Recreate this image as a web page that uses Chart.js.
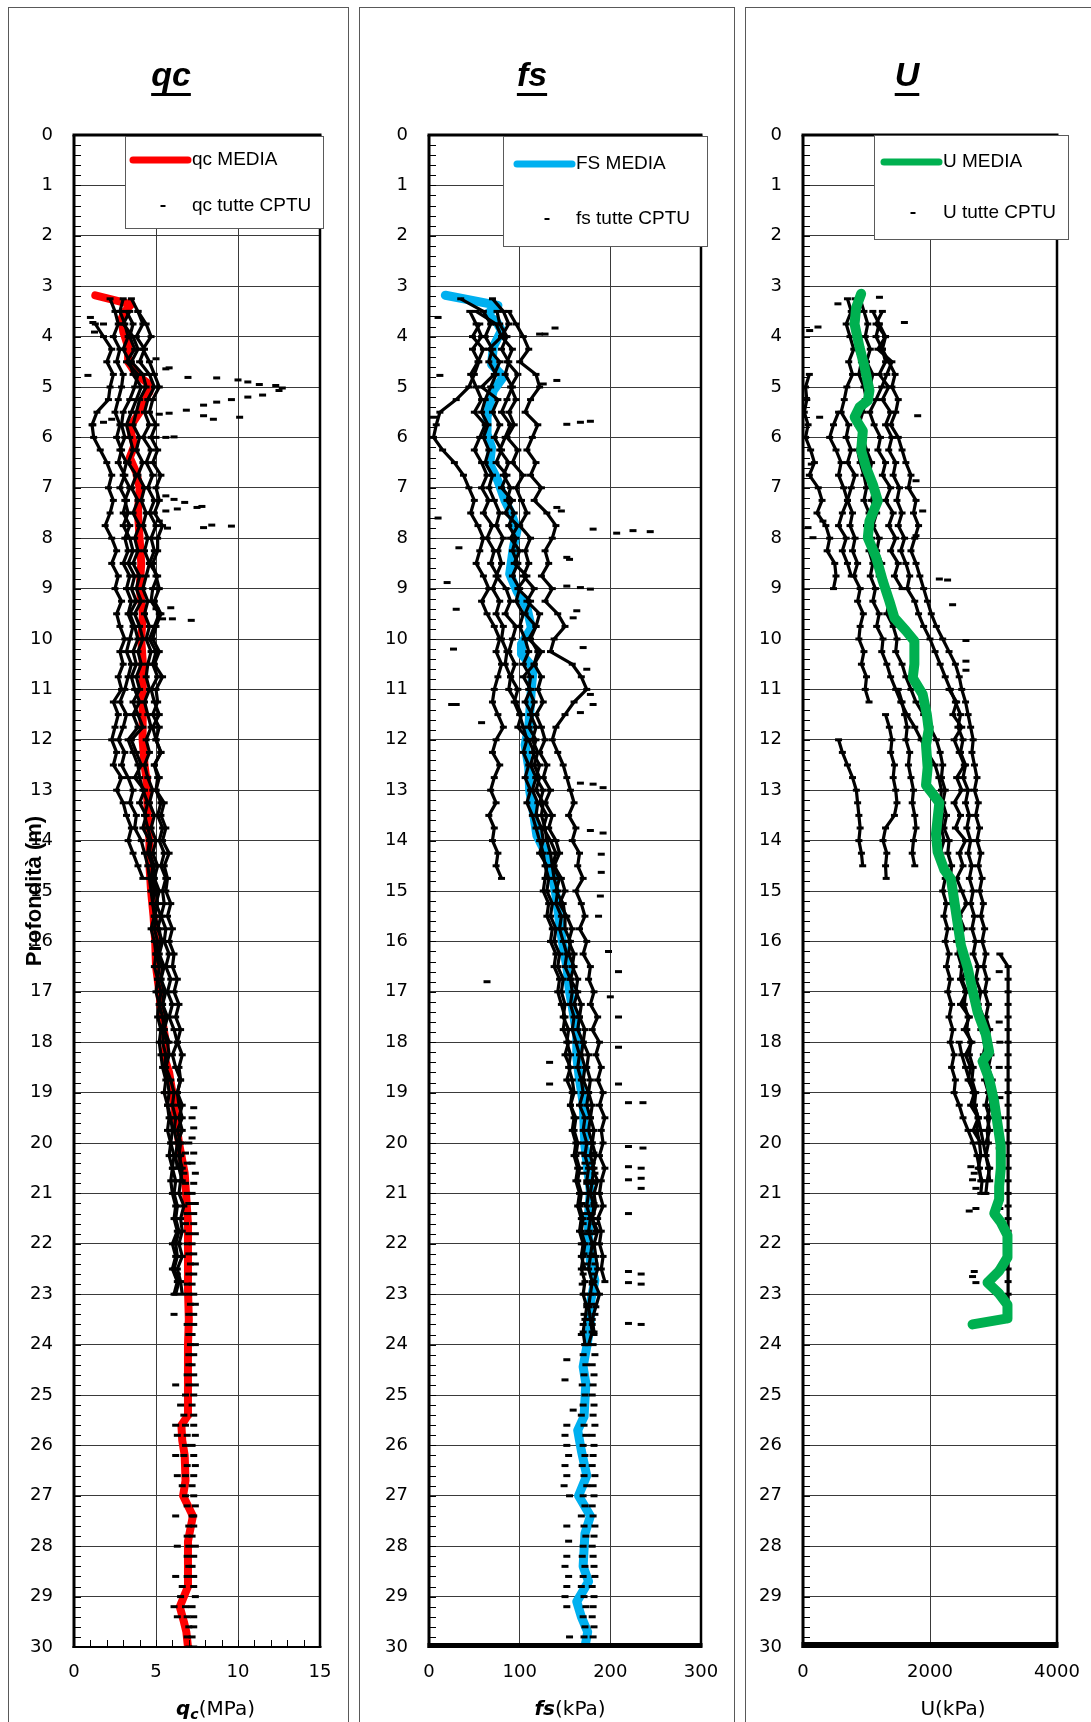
<!DOCTYPE html>
<html lang="it">
<head>
<meta charset="utf-8">
<title>qc - fs - U</title>
<script src="https://cdn.jsdelivr.net/npm/chart.js@4.4.1/dist/chart.umd.min.js"></script>
<style>
html,body{margin:0;padding:0;background:#fff;}
body{position:relative;width:1091px;height:1722px;overflow:hidden;}
.panel{position:absolute;top:7px;height:1740px;border:1px solid #595959;box-sizing:border-box;background:#fff;}
.wrap{position:absolute;top:7px;height:1715px;}
.wrap canvas{display:block;}
</style>
</head>
<body>
<div class="panel" style="left:8px;width:341px"></div>
<div class="panel" style="left:359px;width:376px"></div>
<div class="panel" style="left:745px;width:370px"></div>
<div class="wrap" style="left:8px;width:340px"><canvas id="cQc"></canvas></div>
<div class="wrap" style="left:359px;width:375px"><canvas id="cFs"></canvas></div>
<div class="wrap" style="left:745px;width:346px"><canvas id="cU"></canvas></div>
<script>
// ================= DATA =================
const DEPTH_TICKS = [0,1,2,3,4,5,6,7,8,9,10,11,12,13,14,15,16,17,18,19,20,21,22,23,24,25,26,27,28,29,30];
const QC_TICKS = [0,5,10,15];
const FS_TICKS = [0,100,200,300];
const U_TICKS = [0,2000,4000];

// sampling depths (m) of the shallow CPTU profiles
const DEPTHS = [3.25,3.5,3.75,4,4.25,4.5,4.75,5,5.25,5.5,5.75,6,6.25,6.5,6.75,7,7.25,7.5,7.75,8,8.25,8.5,8.75,9,9.25,9.5,9.75,10,10.25,10.5,10.75,11,11.25,11.5,11.75,12,12.25,12.5,12.75,13,13.25,13.5,13.75,14,14.25,14.5,14.75,15,15.25,15.5,15.75,16,16.25,16.5,16.75,17,17.25,17.5,17.75,18,18.25,18.5,18.75,19,19.25,19.5,19.75,20,20.25,20.5,20.75,21,21.25,21.5,21.75,22,22.25,22.5,22.75,23,23.25,23.5,23.75,24];
// sampling depths (m) of the deep CPTU
const DEEP_DEPTHS = [20,20.2,20.4,20.6,20.8,21,21.2,21.4,21.6,21.8,22,22.2,22.4,22.6,22.8,23,23.2,23.4,23.6,23.8,24,24.2,24.4,24.6,24.8,25,25.2,25.4,25.6,25.8,26,26.2,26.4,26.6,26.8,27,27.2,27.4,27.6,27.8,28,28.2,28.4,28.6,28.8,29,29.2,29.4,29.6,29.8,30];

// ---- qc (MPa) ----
const qcMediaDepth = [3.18,3.36,3.5,3.65,3.9,4.2,4.5,4.75,4.95,5.1,5.3,5.5,5.75,5.95,6.15,6.4,6.7,7.0,7.5,8.0,8.5,9.0,9.5,10.0,10.5,11.0,11.5,12.0,12.5,12.75,13.0,13.5,14.0,14.5,15.0,15.5,16.0,16.5,17.0,17.5,17.8,18.0,18.3,18.6,19.0,19.5,20.0,20.6,21.1,21.6,22.3,22.9,23.5,24.0,24.6,25.4,25.6,25.9,26.2,26.7,27.0,27.4,27.9,28.4,28.8,29.2,29.5,29.7,30.0];
const qcMedia = [1.3,3.5,3.1,2.9,3.0,3.3,3.3,3.8,4.6,4.6,4.2,4.0,3.5,3.5,3.7,3.4,3.8,4.0,3.9,4.0,4.1,4.0,4.2,4.1,4.2,4.2,4.15,4.2,4.3,4.4,4.45,4.5,4.6,4.6,4.7,4.85,4.95,5.0,5.2,5.35,5.5,5.6,5.5,5.8,6.0,6.2,6.4,6.75,6.85,6.95,6.95,6.95,7.0,6.95,6.95,6.95,6.55,6.6,6.75,6.8,6.65,7.25,6.95,6.95,6.95,6.45,6.7,6.85,6.95];
const qcA = [3.0,2.8,3.1,3.3,3.0,3.4,3.6,4.1,3.8,3.5,
3.2,3.4,3.6,3.3,3.8,3.5,3.9,3.6,4.0,3.7,
3.9,3.6,4.0,3.8,4.1,3.7,4.0,4.2,3.9,4.1,
3.8,4.0,3.6,3.9,4.2,3.5,3.8,4.1,3.7,4.3,
4.0,4.4,4.2,4.6,4.5,4.8,4.7,4.9,4.8,5.0,
4.9,5.1,5.0,5.2,5.1,5.3,5.2,5.4,5.5,5.4,
5.6,5.5,5.7,5.8,5.7,5.9,6.0,5.9,6.1,6.0,
6.2,6.1,6.3,6.2,6.4,6.2,6.3,6.1,6.4,6.2];
const qcB = [3.5,3.9,4.2,3.8,4.3,4.0,4.6,4.9,4.5,4.3,
4.6,4.2,4.7,4.4,4.8,4.5,4.9,4.6,5.0,4.7,
4.9,4.6,5.1,4.8,4.7,5.2,4.9,4.6,5.0,4.8,
5.1,4.7,4.9,5.2,4.8,5.0,5.3,4.9,5.1,5.0,
5.3,5.1,5.4,5.2,5.5,5.3,5.6,5.4,5.5,5.3,
5.6,5.5,5.8,5.6,5.9,5.7,6.0,5.8,6.1,6.3,
6.0,6.2,6.5,6.3,6.4,6.6,6.3,6.5,6.4,6.6,
6.5,6.4,6.7,6.5,6.6,6.4,6.6,6.3,6.5,6.6];
const qcC = [2.2,2.5,2.7,2.4,2.8,2.6,3.0,2.9,2.7,2.5,
2.8,2.6,2.9,2.7,3.1,2.8,3.2,3.0,3.4,3.1,
3.3,3.0,3.4,3.2,3.5,3.3,3.6,3.4,3.2,3.5,
3.3,3.1,2.8,3.2,3.0,2.7,3.1,2.9,3.3,3.6,
3.4,3.8,3.7,4.1,4.3,4.5,4.6,4.7,4.8,4.9,
4.7,4.9,5.0,4.9,5.1,5.0,5.2,5.1,5.3,5.2,
5.3,5.4,5.6,5.5,5.7,5.8,5.7,5.9,5.8,6.0,
5.9,6.0,6.2,6.1,6.3,6.0,6.2,6.0,6.3,6.1];
const qcD = [null,null,1.3,1.8,2.3,2.0,2.4,2.2,2.1,1.4,
1.1,1.2,1.6,2.0,2.3,2.1,2.4,2.2,1.9,2.3,
2.6,2.3,2.7,2.5,2.9,2.6,2.8,3.1,2.8,3.0,
2.7,2.9,2.4,2.7,2.5,2.3,2.6,2.4,2.9,2.6,
3.0,3.2,3.5,3.3,3.6,3.9,4.2];
const qcE = [null,3.9,4.4,4.7,4.2,4.6,4.9,5.2,4.8,4.6,
5.0,4.7,5.1,4.8,5.3,5.0,5.2,4.9,5.4,5.1,
5.1,4.8,5.0,5.2,4.9,5.3,5.0,4.8,5.2,4.9,
5.4,5.0,5.1,4.8,5.2,5.0,5.3,4.9,5.2,5.0,
5.5,5.3,5.6,5.4,5.8,5.5,5.7,5.6,5.9,5.7,
6.0,5.8,6.1,6.0,6.3,6.1,6.4,6.2,6.5,6.3,
6.6,6.4,6.5,6.3,6.6,6.4,6.6,6.3,6.5,6.4,
6.6];
const qcF = [null,3.2,3.6,3.4,3.7,3.2,3.9,3.7,3.4,3.0,
2.9,3.1,2.8,3.2,3.0,3.4,3.1,3.3,3.0,3.4,
3.6,3.3,3.7,3.5,3.8,3.4,3.7,3.9,3.6,3.8,
3.5,3.7,4.0,3.6,3.9,3.3,3.6,3.9,4.0,4.2,
4.5,4.3,4.5,4.7,4.6,4.9,4.8,5.0,5.1,4.9,
5.2,5.3,5.1,5.4,5.3,5.5,5.4,5.6,5.3,5.7,
5.8,5.6,5.9,6.1,6.0,6.2,6.1,6.3,6.2,6.3];
const qcG = [null,3.4,3.0,3.6,3.9,3.5,4.2,4.4,4.0,3.8,
3.6,4.0,3.8,4.2,3.9,4.3,4.1,4.4,4.2,4.5,
4.3,4.6,4.4,4.2,4.5,4.3,4.6,4.4,4.7,4.5,
4.4,4.6,4.3,4.5,4.7,4.4,4.6,4.3,4.5,4.8,
4.6,4.9,4.7,5.0,4.8,5.1,4.9,5.2,5.0,5.3,
5.1,5.4,5.2,5.5,5.3,5.6,5.4,5.7,5.5,5.8];
const qcDeep1 = [7.0,7.3,7.2,7.4,7.3,7.2,7.4,7.3,7.3,7.4,7.2,7.3,7.4,7.3,7.2,7.3,7.4,7.3,7.3,7.2,7.4,7.3,7.2,7.3,7.4,7.3,7.2,7.3,7.3,7.4,7.2,7.3,7.4,7.3,7.2,7.3,7.4,7.3,7.3,7.2,7.4,7.3,7.2,7.3,7.3,7.4,7.2,7.3,7.3,7.2,7.3];
const qcDeep2 = [6.6,6.8,6.9,6.7,6.8,6.9,7.0,6.9,6.8,7.0,6.9,7.0,7.1,7.0,6.9,7.0,7.1,7.0,6.9,7.0,7.1,7.0,7.0,6.9,7.0,6.8,6.5,6.7,6.8,6.9,6.8,6.7,6.9,6.8,6.6,6.8,6.9,7.2,7.0,6.9,7.0,6.9,7.0,6.9,6.6,6.5,6.8,6.9,7.0,6.9,7.0];
const qcScatter = [[5.0,4.44],[5.6,4.64],[5.8,4.62],[6.95,4.81],[8.7,4.82],[10.0,4.86],[10.6,4.9],[11.3,4.95],[12.3,4.97],[12.7,5.02],[12.5,5.07],[11.5,5.16],[10.6,5.2],[9.6,5.25],[8.7,5.3],[7.9,5.36],[6.85,5.46],[5.8,5.52],[5.2,5.54],[7.9,5.57],[8.5,5.64],[10.1,5.6],[0.85,4.77],[1.0,3.62],[1.15,3.72],[1.25,3.91],[1.8,3.75],[2.3,5.64],[1.8,5.7],[1.15,5.75],[5.6,7.16],[6.1,7.23],[6.75,7.29],[7.5,7.39],[7.8,7.37],[6.3,7.42],[5.6,7.46],[5.2,7.66],[5.7,7.8],[7.9,7.79],[8.4,7.74],[9.6,7.76],[5.0,6.0],[5.6,6.0],[6.1,5.99],[5.4,9.6],[6.0,9.6],[7.15,9.63],[5.0,9.4],[5.9,9.38],[7.3,19.3],[7.2,19.5],[7.3,19.7],[7.2,19.9],[6.3,22.6],[6.1,23.4],[6.2,24.8],[6.2,25.6],[6.3,25.8],[6.2,26.2],[6.3,26.6],[6.2,27.4],[6.3,28.0],[6.2,28.6],[6.1,29.2],[6.3,29.4]];

// ---- fs (kPa) ----
const fsMediaDepth = [3.18,3.38,3.55,3.72,3.88,4.2,4.55,4.8,5.07,5.34,5.6,5.93,6.2,6.53,6.86,7.26,7.52,7.85,8.19,8.71,9.05,9.38,9.78,10.1,10.3,10.57,10.97,11.5,11.75,12.1,12.55,13.0,13.43,13.9,14.3,14.76,15.2,15.65,16.1,16.5,17.0,17.4,17.86,18.3,18.74,19.2,20.07,20.96,21.4,21.84,22.37,22.73,23.17,23.6,24.04,24.44,24.77,25.43,25.7,26.1,26.6,27.0,27.4,27.75,28.4,28.7,29.1,29.4,29.7,30.0];
const fsMedia = [18,76,64,75,80,71,69,82,71,67,64,64,69,67,76,84,91,97,93,89,97,108,113,102,102,115,113,111,110,106,110,111,115,119,130,137,141,144,148,152,155,159,163,163,166,170,172,178,176,176,178,183,178,178,174,170,173,171,164,168,174,165,178,172,170,176,163,168,175,172];
const fsA = [35,60,68,62,70,66,74,68,62,58,
65,60,66,62,70,66,72,78,74,82,
76,80,74,85,90,84,96,92,88,95,
90,98,94,100,104,108,104,110,106,112,
108,114,118,122,126,128,132,130,136,134,
140,138,144,142,148,146,150,148,154,152,
156,154,158,160,156,162,160,164,162,166,
164,168,166,170,168,172,170,168,172,170,
174,172,170,172];
const fsB = [70,82,88,80,92,86,98,90,96,88,
94,86,98,92,104,96,102,108,100,112,
106,110,104,116,108,122,118,112,120,116,
124,120,126,118,124,128,122,130,126,134,
128,136,132,140,144,138,146,150,144,152,
158,154,160,158,164,162,168,166,172,170,
176,174,178,176,180,178,182,180,184,180,
186,182,184,180,186,182,184,186,182,188,
184,180,182];
const fsC = [null,45,52,58,48,55,50,44,30,12,
8,5,15,28,38,44,50,46,54,60,
56,52,60,66,58,64,72,78,74,80,
76,72,70,76,82,74,70,78,72,68,
74,66,72,70,76,74,80];
const fsD = [null,88,96,104,110,100,118,122,112,106,
120,114,108,118,112,124,116,130,140,136,
128,132,124,136,128,142,150,138,134,158,
168,174,160,150,140,136,142,148,152,156,
160,154,162,158,166,164,170,162,168,172,
166,174,170,178,176,182,178,186,180,188,
184,190,186,192,188,194,190,192,188,194,
190,188,192,186,190,188,192,190,194];
const fsE = [null,null,56,48,60,54,46,52,58,50,
62,56,50,58,64,58,66,60,70,64,
72,68,76,70,78,74,82,80,86,84,
90,88,96,102,98,110,116,112,118,114,
120,118,124,126,122,130,128,126,132,130,
136,134,140,138,144,142,146,150,148,154,
150,156,152,158,156,160,158,162,160,164,
162,166,164,168,166,170,168,172];
const fsF = [null,75,78,86,80,88,84,92,86,80,
90,84,78,88,82,90,86,94,88,96,
92,98,92,100,96,104,100,106,110,104,
112,110,116,112,118,114,120,116,122,118,
126,124,128,130,134,136,138,142,140,146,
144,148,152,150,156,158,156,160,158,162,
166,164,168,170,166,172,170,174,172,176,
174,176,174,178,176,180,178,176,180,178,
176,178,180,176];
const fsG = [null,52,74,80,66,78,72,58,76,70,
78,72,80,74,86,80,92,84,98,90,
100,94,108,98,112,106,118,110,124,116,
104,112,106,114,110,118,114,122,118,126,
122,130,126,134,140,136,144,140,148,150,
150,156,154,160,156,164,160,166,164,170,
168,172,170,176,174,178,176,180,178,182,
180,178,182,180,184];
const fsDeep1 = [178,182,180,183,181,179,182,180,183,181,182,180,183,181,180,182,181,183,180,182,181,183,180,182,181,180,182,181,183,180,182,181,180,183,181,182,180,181,183,182,180,181,182,183,180,182,181,180,182,181,182];
const fsDeep2 = [170,168,172,170,174,171,169,173,170,172,168,171,173,170,169,172,174,171,170,168,172,170,173,171,169,172,170,168,171,173,170,172,169,171,174,170,172,168,171,173,170,169,172,170,168,171,173,170,172,171,170];
const fsScatter = [[122,3.95],[139,3.83],[128,3.95],[141,4.87],[126,4.94],[152,5.74],[167,5.7],[178,5.68],[181,7.82],[207,7.9],[225,7.85],[244,7.87],[141,7.39],[146,7.46],[152,8.38],[155,8.42],[167,8.98],[178,9.01],[152,8.95],[163,9.44],[159,9.58],[170,10.17],[174,10.6],[178,11.1],[181,11.3],[167,11.46],[10,3.62],[12,4.77],[5,5.6],[30,9.41],[27,10.2],[25,11.3],[20,8.88],[10,7.6],[33,8.19],[192,12.95],[181,12.88],[167,12.86],[192,13.85],[178,13.8],[190,14.27],[190,14.63],[189,15.1],[187,15.5],[198,16.2],[209,16.6],[200,17.1],[209,17.5],[209,18.1],[209,18.83],[236,19.2],[220,19.2],[236,20.1],[220,20.07],[234,20.5],[234,20.7],[234,20.9],[220,20.47],[220,20.73],[220,21.4],[234,22.6],[220,22.55],[234,22.8],[220,22.77],[234,23.6],[220,23.58],[58,11.66],[30,11.3],[64,16.8],[133,18.83],[133,18.4],[152,24.3],[150,24.7],[159,25.3],[152,25.6],[150,25.8],[152,26.0],[154,26.2],[150,26.4],[152,26.6],[149,26.8],[155,27.0],[152,27.6],[154,27.9],[152,28.2],[150,28.4],[154,28.6],[152,28.8],[150,29.0],[152,29.2],[155,29.8]];

// ---- U (kPa) ----
const uMediaDepth = [3.15,3.42,3.75,4.21,4.6,5.07,5.27,5.4,5.6,5.87,6.26,6.6,6.93,7.26,7.66,7.99,8.38,8.85,9.25,9.58,9.84,10.04,10.5,10.77,11.1,11.5,11.8,12.1,12.55,12.9,13.07,13.25,13.87,14.22,14.58,14.76,15.2,15.64,16.08,16.52,16.97,17.4,17.85,18.2,18.38,18.73,19.18,19.62,20.06,20.5,20.86,21.12,21.4,21.57,21.83,22.27,22.54,22.77,22.99,23.21,23.48,23.6];
const uMedia = [916,838,812,890,969,1047,1021,890,812,942,916,995,1099,1178,1047,1021,1152,1257,1361,1440,1623,1754,1754,1728,1885,1950,1980,1937,1963,1937,2042,2147,2094,2120,2225,2330,2382,2435,2487,2592,2670,2749,2880,2932,2827,2932,3011,3063,3115,3115,3089,3089,3011,3115,3220,3220,3089,2906,3089,3220,3220,2670];
const uA = [null,null,null,null,null,null,100,40,60,20,
80,40,120,180,100,240,300,220,360,420,
380,500,520,480];
const uI = [null,null,null,null,null,null,null,null,null,560,
480,420,520,600,560,640,700,620,560,680,
620,700,760];
const uB = [700,760,680,740,800,720,780,690,650,600,
720,680,760,700,820,760,700,780,740,820,
780,860,800,900,860,950,900,880,960,920,
1000,980,1040];
const uF = [820,860,800,880,840,920,880,960,1000,940,
880,920,860,900,960,1000,960,1040,1000,1080,
1040,1100,1060,1140,1100,1200,1160,1260,1240,1320,
1380,1460,1540,1640,1760,1860,1960,2080,2140,2180,
2160,2200,2180,2220,2160,2200,2240,2200,2260,2220,
2280,2240,2300,2260,2320,2280,2340,2300,2360,2320,
2380,2340,2400,2380,2460,2520,2600,2680,2740,2780,
2800];
const uC = [900,960,1020,980,1060,1000,1100,1050,980,900,
860,940,1000,1080,1040,1120,1080,1160,1100,1200,
1160,1240,1200,1300,1360,1320,1420,1480,1460,1560,
1620,1700,1780,1900,2000,2100,2160,2200,2180,2240,
2200,2260,2220,2300,2280,2340,2320,2380,2360,2420,
2400,2460,2440,2500,2480,2560,2540,2600,2580,2640,
2620,2680,2660,2720,2700,2760,2740,2780,2800,2760,
2820,2800];
const uD = [null,1100,1200,1150,1250,1300,1200,1350,1250,1380,
1300,1400,1350,1460,1420,1520,1480,1560,1500,1600,
1540,1620,1680,1640,1760,1820,1900,2000,2080,2160,
2240,2320,2400,2480,2440,2520,2480,2560,2520,2600,
2560,2620,2580,2640,2600,2660,2620,2680,2640,2700,
2660,2720,2680,2760,2720,2800,2760,2840,2800,2880,
2840,2900,2860,2920,2880,2940,2900,2920,2880,2940,
2900,2880];
const uE = [null,null,1200,1300,1250,1350,1450,1400,1500,1460,
1380,1500,1560,1620,1700,1660,1780,1740,1820,1760,
1700,1780,1840,1900,1960,2020,2100,2200,2300,2400,
2460,2500,2560,2600,2640,2680,2660,2700,2740,2700,
2760,2720,2780,2740,2800,2760,2820,2780,2840,2800,
2860,2820,2880,2840,2900,2860,2920,2880,2940,2900,
2960,2920,2980,2940,2960,2900,2940,2880];
const uJ = [null,null,null,null,null,null,null,null,null,null,
null,null,null,null,null,null,null,null,null,null,
null,null,null,null,null,null,null,null,null,null,
null,2300,2420,2360,2500,2380,2460,2540,2420,2500,
2380,2480,2400,2560,2460,2520,2420,2500,2580,2460,
2540,2420,2520,2600,2500,2580,2480,2620,2540,2660,
2560,2640,2600,2700,2640,2760,2680,2800];
const uK = [null,1250,1150,1300,1180,1400,1320,1240,1150,1050,
1120,1220,1180,1300,1250,1380,1300,1420,1350,1460,
1380,1500,1440,1560];
const uL1 = [null,null,null,null,null,null,null,null,null,null,
null,null,null,null,null,null,null,null,null,null,
null,null,null,null,null,null,null,null,null,null,
null,null,null,null,null,560,620,700,780,840,
860,880,900,880,920,940];
const uL2 = [null,null,null,null,null,null,null,null,null,null,
null,null,null,null,null,null,null,null,null,null,
null,null,null,null,null,null,null,null,null,null,
null,null,null,1300,1360,1400,1380,1440,1420,1460,
1480,1440,1300,1260,1320,1300,1310];
const uL3 = [null,null,null,null,null,null,null,null,null,null,
null,null,null,null,null,null,null,null,null,null,
null,null,null,null,null,null,null,null,null,null,
null,1500,1560,1600,1640,1620,1680,1660,1700,1740,
1720,1760,1780,1740,1720,1760];
const uG = [null,null,null,null,null,null,null,null,null,null,
null,null,null,null,null,null,null,null,null,null,
null,null,null,null,null,null,null,null,null,null,
null,null,null,null,null,null,null,null,null,null,
null,null,null,null,null,null,null,null,null,null,
null,null,3100,3230,3230,3230,3230,3230,3230,3230,
3230,3230,3230,3230,3230,3230,3230,3230,3230,3230,
3230,3230,3230,3230,3230,3230,3230,3230,3230,3230,
3230,3230];
const uH = [null,null,null,null,null,null,null,null,null,null,
null,null,null,null,null,null,null,null,null,null,
null,null,null,null,null,null,null,null,null,null,
null,null,null,null,null,null,null,null,null,null,
null,null,null,null,null,null,null,null,null,null,
null,null,null,null,null,null,null,null,null,2460,
2500,2560,2620,2680,2700,2760,2800,2840,2880,2920,
2940];
const uScatter = [[2644,20.47],[2697,20.6],[2670,20.73],[2723,20.9],[2618,21.35],[2723,21.3],[2697,22.55],[2670,22.65],[2723,22.77],[2854,21.0],[3090,16.6],[3090,17.6],[3100,18.0],[3090,18.5],[3100,19.1],[3110,19.5],[3090,20.1],[3100,21.3],[3090,22.5],[3100,23.5],[105,3.88],[236,3.81],[550,3.35],[1204,3.22],[1597,3.72],[1806,5.57],[1780,6.86],[1885,7.46],[1780,7.95],[2147,8.81],[2277,8.83],[2356,9.32],[2566,10.03],[2566,10.44],[2566,10.62],[79,7.79],[157,7.99],[314,7.66],[131,6.53],[262,5.6]];

// ================= HELPERS =================
const SANS = '"DejaVu Sans", "Liberation Sans", Arial, sans-serif';
const ARIAL = '"Liberation Sans", Arial, sans-serif';
Chart.defaults.font.family = SANS;
Chart.defaults.color = '#000';

function profile(vals, grid) {
  const out = [];
  vals.forEach((v, i) => { if (v !== null && i < grid.length) out.push({x: v, y: grid[i]}); });
  return out;
}
function pairs(list) { return list.map(p => ({x: p[0], y: p[1]})); }
function zip(xs, ys) {
  const out = [], n = Math.min(xs.length, ys.length);
  for (let i = 0; i < n; i++) out.push({x: xs[i], y: ys[i]});
  return out;
}

const decor = {
  id: 'decor',
  afterDraw(chart, args, o) {
    const ctx = chart.ctx, a = chart.chartArea, ys = chart.scales.y, xs = chart.scales.x;
    ctx.save();
    // minor depth ticks (inside)
    ctx.strokeStyle = '#000'; ctx.lineWidth = 1;
    ctx.beginPath();
    for (let k = 0; k <= 150; k++) {
      const py = Math.round(ys.getPixelForValue(k / 5)) + 0.5;
      ctx.moveTo(a.left, py); ctx.lineTo(a.left + 7, py);
    }
    if (o.xMinor) {
      for (let v = o.xMinor; v < xs.max; v += o.xMinor) {
        const px = Math.round(xs.getPixelForValue(v)) + 0.5;
        ctx.moveTo(px, a.bottom); ctx.lineTo(px, a.bottom - 7);
      }
    }
    ctx.stroke();
    // frame
    const seg = (x1, y1, x2, y2, w) => { ctx.lineWidth = w; ctx.beginPath(); ctx.moveTo(x1, y1); ctx.lineTo(x2, y2); ctx.stroke(); };
    seg(a.left - 1.5, a.top, a.right + 1.5, a.top, 3);
    seg(a.right, a.top, a.right, a.bottom, 2.5);
    seg(a.left, a.top, a.left, a.bottom + 1, 3);
    const by = a.bottom + 1 - o.bottomW / 2;
    seg(a.left - 1.5, by, a.right + 1.5, by, o.bottomW);
    // legend box
    const L = o.legend;
    const d1 = chart.data.datasets.find(d => d.legendRow === 1);
    const d2 = chart.data.datasets.find(d => d.legendRow === 2);
    ctx.fillStyle = '#fff';
    ctx.fillRect(L.x0, L.y0, L.x1 - L.x0, L.y1 - L.y0);
    ctx.strokeStyle = '#5a5a5a'; ctx.lineWidth = 1;
    ctx.strokeRect(L.x0 + 0.5, L.y0 + 0.5, L.x1 - L.x0 - 1, L.y1 - L.y0 - 1);
    ctx.strokeStyle = d1.borderColor; ctx.lineWidth = 7; ctx.lineCap = 'round';
    ctx.beginPath(); ctx.moveTo(L.lx0, L.r1); ctx.lineTo(L.lx1, L.r1); ctx.stroke();
    ctx.lineCap = 'butt'; ctx.strokeStyle = '#000'; ctx.lineWidth = 2;
    ctx.beginPath(); ctx.moveTo(L.dx - 2.5, L.r2); ctx.lineTo(L.dx + 2.5, L.r2); ctx.stroke();
    ctx.fillStyle = '#000'; ctx.font = '19px ' + ARIAL; ctx.textAlign = 'left'; ctx.textBaseline = 'middle';
    ctx.fillText(d1.label, L.tx, L.r1);
    ctx.fillText(d2.label, L.tx, L.r2);
    // panel title (bold italic underlined)
    ctx.font = 'italic bold 34px ' + ARIAL; ctx.textAlign = 'center'; ctx.textBaseline = 'alphabetic';
    ctx.fillText(o.title, o.tcx, o.tby);
    const tw = ctx.measureText(o.title).width;
    ctx.fillRect(o.tcx - tw / 2, o.tuy - 1.5, tw, 3);
    // x axis title (rich text)
    let total = 0;
    o.xTitle.forEach(p => { ctx.font = p.f; p.w = ctx.measureText(p.t).width; total += p.w; });
    let x = o.xcx - total / 2;
    ctx.textAlign = 'left';
    o.xTitle.forEach(p => { ctx.font = p.f; ctx.fillText(p.t, x, o.xby + (p.dy || 0)); x += p.w; });
    ctx.restore();
  }
};

function build(id, c) {
  const dashLine = {showLine: true, borderColor: '#000', borderWidth: 3.2, borderJoinStyle: 'round', pointStyle: 'line', pointRadius: 3.5, pointBorderWidth: 3, pointBorderColor: '#000', pointBackgroundColor: '#000', order: 1};
  const dashOnly = {showLine: false, pointStyle: 'line', pointRadius: 3.5, pointBorderWidth: 3, pointBorderColor: '#000', pointBackgroundColor: '#000', borderColor: '#000', order: 1};
  const datasets = [{
    label: c.mediaLabel, data: zip(c.mediaVal, c.mediaDepth), showLine: true,
    borderColor: c.color, backgroundColor: c.color, borderWidth: c.mediaW, pointRadius: 0,
    borderCapStyle: 'round', borderJoinStyle: 'round', order: c.mediaOnTop ? 0 : 2, legendRow: 1
  }];
  c.profiles.forEach((p, k) => datasets.push(Object.assign({label: c.cptuLabel, data: profile(p, DEPTHS), legendRow: k === 0 ? 2 : 0}, dashLine)));
  c.deep.forEach(p => datasets.push(Object.assign({label: c.cptuLabel, data: profile(p, DEEP_DEPTHS), legendRow: 0}, dashOnly)));
  datasets.push(Object.assign({label: c.cptuLabel, data: pairs(c.scatter), legendRow: 0}, dashOnly));

  new Chart(document.getElementById(id), {
    type: 'scatter',
    data: {datasets},
    options: {
      responsive: true, maintainAspectRatio: false, animation: false, devicePixelRatio: 1, events: [],
      layout: {padding: {left: c.pl, right: c.pr, top: 128, bottom: 0}, autoPadding: false},
      plugins: {legend: {display: false}, tooltip: {enabled: false}, decor: c.decor},
      scales: {
        x: {
          type: 'linear', position: 'bottom', min: c.xTicks[0], max: c.xTicks[c.xTicks.length - 1],
          afterBuildTicks: s => { s.ticks = c.xTicks.map(v => ({value: v})); },
          ticks: {padding: 15, color: '#000', font: {family: SANS, size: 18}, autoSkip: false, maxRotation: 0, callback: v => String(v)},
          grid: {color: '#3a3a3a', lineWidth: 1, drawTicks: false},
          border: {display: false},
          afterFit: s => { s.height = 75; s.paddingLeft = 0; s.paddingRight = 0; }
        },
        y: {
          type: 'linear', position: 'left', reverse: true, min: 0, max: 30,
          afterBuildTicks: s => { s.ticks = DEPTH_TICKS.map(v => ({value: v})); },
          ticks: {padding: 21, color: '#000', font: {family: SANS, size: 18}, autoSkip: false, callback: v => String(v)},
          grid: {color: '#3a3a3a', lineWidth: 1, drawTicks: false},
          border: {display: false},
          title: {display: !!c.yTitle, text: c.yTitle || '', color: '#000', font: {family: ARIAL, size: 22, weight: 'bold'}, padding: 0},
          afterFit: s => { s.width = c.yw; s.paddingTop = 0; s.paddingBottom = 0; }
        }
      }
    },
    plugins: [decor]
  });
}

build('cQc', {
  mediaLabel: 'qc MEDIA', cptuLabel: 'qc tutte CPTU', color: '#ff0000', mediaW: 8, mediaOnTop: false,
  mediaVal: qcMedia, mediaDepth: qcMediaDepth,
  profiles: [qcA, qcB, qcC, qcD, qcE, qcF, qcG], deep: [qcDeep1, qcDeep2], scatter: qcScatter,
  xTicks: QC_TICKS, pl: 14, yw: 52, pr: 28, yTitle: 'Profondità (m)',
  decor: {
    title: 'qc', tcx: 163, tby: 79, tuy: 87.5, bottomW: 2, xMinor: 1,
    legend: {x0: 117, y0: 129, x1: 316, y1: 222, lx0: 125, lx1: 180, r1: 153, dx: 155, r2: 199, tx: 184},
    xcx: 207.5, xby: 1708,
    xTitle: [{t: 'q', f: 'italic bold 20px ' + SANS}, {t: 'c', f: 'italic bold 14px ' + SANS, dy: 4}, {t: '(MPa)', f: '20px ' + SANS}]
  }
});
build('cFs', {
  mediaLabel: 'FS MEDIA', cptuLabel: 'fs tutte CPTU', color: '#00b0f0', mediaW: 9, mediaOnTop: false,
  mediaVal: fsMedia, mediaDepth: fsMediaDepth,
  profiles: [fsA, fsB, fsC, fsD, fsE, fsF, fsG], deep: [fsDeep1, fsDeep2], scatter: fsScatter,
  xTicks: FS_TICKS, pl: 0, yw: 70, pr: 33, yTitle: null,
  decor: {
    title: 'fs', tcx: 173, tby: 79, tuy: 87.5, bottomW: 5, xMinor: 0,
    legend: {x0: 144, y0: 129, x1: 349, y1: 240, lx0: 158, lx1: 213, r1: 157, dx: 188, r2: 212, tx: 217},
    xcx: 211, xby: 1708,
    xTitle: [{t: 'fs', f: 'italic bold 20px ' + SANS}, {t: '(kPa)', f: '20px ' + SANS}]
  }
});
build('cU', {
  mediaLabel: 'U MEDIA', cptuLabel: 'U tutte CPTU', color: '#00b050', mediaW: 10, mediaOnTop: true,
  mediaVal: uMedia, mediaDepth: uMediaDepth,
  profiles: [uC, uA, uI, uB, uF, uD, uE, uJ, uK, uL1, uL2, uL3, uG, uH], deep: [], scatter: uScatter,
  xTicks: U_TICKS, pl: 0, yw: 58, pr: 34, yTitle: null,
  decor: {
    title: 'U', tcx: 162, tby: 79, tuy: 87.5, bottomW: 6, xMinor: 0,
    legend: {x0: 129, y0: 128, x1: 324, y1: 233, lx0: 139, lx1: 194, r1: 155, dx: 168, r2: 206, tx: 198},
    xcx: 208, xby: 1708,
    xTitle: [{t: 'U', f: '20px ' + SANS}, {t: '(kPa)', f: '20px ' + SANS}]
  }
});
</script>
</body>
</html>
